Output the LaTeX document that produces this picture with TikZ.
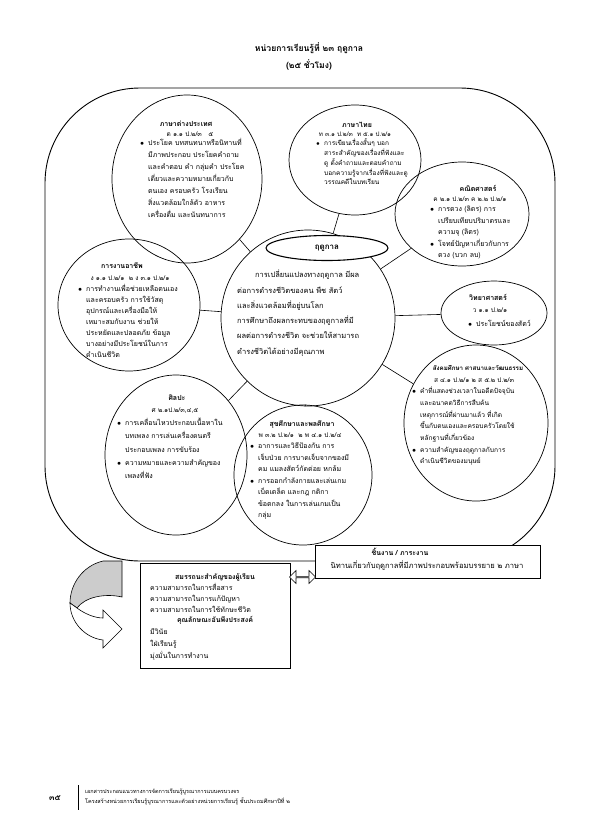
\documentclass[tikz,border=0pt]{standalone}
\usepackage{fontspec}
\setmainfont{Loma}[Script=Thai]
\usetikzlibrary{shapes.geometric,shapes.arrows}
\newcommand\fl{\rule{0pt}{8pt}}
\newcommand\bul{\makebox[8pt][l]{$\bullet$}}
\newcommand\ind{\hspace*{8pt}}
\begin{document}
\begin{tikzpicture}[x=1pt,y=-1pt,
  subj/.style={draw, ellipse, inner sep=0pt, line width=0.7pt},
  lk/.style={line width=0.6pt},
  hd/.style={font=\fontsize{7}{8}\selectfont\bfseries, anchor=base, inner sep=0pt},
  cd/.style={font=\fontsize{6.5}{8}\selectfont, anchor=base, inner sep=0pt},
  blk/.style={font=\fontsize{7}{#1}\selectfont, align=left, anchor=north west, inner sep=0pt},
  blk/.default=11.5,
  boxx/.style={draw, fill=white, line width=0.6pt, anchor=north west, inner sep=0pt}]
\useasboundingbox (0,0) rectangle (595,836);

% title
\node[font=\fontsize{8.6}{10}\selectfont\bfseries, anchor=base] (t1) at (309,51) {หน่วยการเรียนรู้ที่ ๒๓ ฤดูกาล};
\node[font=\fontsize{8.6}{10}\selectfont\bfseries, anchor=base] (t2) at (309,68) {(๒๕ ชั่วโมง)};

% outer frame
\draw[line width=0.9pt, rounded corners=95pt] (45,88) rectangle (555,561);

% circles
\node[subj, minimum width=174pt, minimum height=176pt] (c) at (308,318) {};
\node[subj, minimum width=150pt, minimum height=168pt] (fl) at (187,179) {};
\node[subj, minimum width=132pt, minimum height=110pt] (th) at (355,160) {};
\node[subj, minimum width=134pt, minimum height=104pt] (ma) at (462,214) {};
\node[subj, minimum width=142pt, minimum height=132pt] (oc) at (129,305) {};
\node[subj, minimum width=106pt, minimum height=64pt] (sc) at (494,313) {};
\node[subj, minimum width=144pt, minimum height=156pt] (so) at (476,423) {};
\node[subj, minimum width=142pt, minimum height=160pt] (ar) at (176,455) {};
\node[subj, minimum width=138pt, minimum height=140pt] (pe) at (303,475) {};

\foreach \s in {fl,th,ma,oc,sc,so,ar,pe} \draw[lk] (c) -- (\s);

\node[draw, ellipse, fill=white, line width=1.1pt, minimum width=122pt, minimum height=25pt, inner sep=0pt,
  font=\fontsize{8}{9}\selectfont\bfseries] (lab) at (327,248) {ฤดูกาล};

% centre text
\node[blk=15.3, font=\fontsize{7.5}{15.3}\selectfont] (ct) at (237,269.5) {\fl\hspace*{18pt}การเปลี่ยนแปลงทางฤดูกาล มีผล\\
ต่อการดำรงชีวิตของคน พืช สัตว์\\
และสิ่งแวดล้อมที่อยู่บนโลก\\
การศึกษาถึงผลกระทบของฤดูกาลที่มี\\
ผลต่อการดำรงชีวิต จะช่วยให้สามารถ\\
ดำรงชีวิตได้อย่างมีคุณภาพ};

% foreign language
\node[hd] (flh) at (186,126.5) {ภาษาต่างประเทศ};
\node[cd] (flc) at (190,136.5) {ต ๑.๑ ป.๒/๓ \ \ ๕};
\node[blk=12] (flt) at (140,137.5) {\fl\bul ประโยค บทสนทนาหรือนิทานที่\\
\ind มีภาพประกอบ ประโยคคำถาม\\
\ind และคำตอบ คำ กลุ่มคำ ประโยค\\
\ind เดี่ยวและความหมายเกี่ยวกับ\\
\ind ตนเอง ครอบครัว โรงเรียน\\
\ind สิ่งแวดล้อมใกล้ตัว อาหาร\\
\ind เครื่องดื่ม และนันทนาการ};

% thai
\node[hd] (thh) at (357,127.5) {ภาษาไทย};
\node[cd, font=\fontsize{6.2}{8}\selectfont] (thc) at (355,136.5) {ท ๓.๑ ป.๒/๓ \ ท ๕.๑ ป.๒/๑};
\node[blk=9.8, font=\fontsize{6.5}{9.8}\selectfont] (tht) at (316,137.5) {\fl\bul การเขียนเรื่องสั้นๆ บอก\\
\ind สาระสำคัญของเรื่องที่ฟังและ\\
\ind ดู ตั้งคำถามและตอบคำถาม\\
\ind บอกความรู้จากเรื่องที่ฟังและดู\\
\ind วรรณคดีในบทเรียน};

% math
\node[hd] (mah) at (478,191.5) {คณิตศาสตร์};
\node[cd] (mac) at (470,201.5) {ค ๒.๑ ป.๒/๓ ค ๒.๒ ป.๒/๑};
\node[blk=11.5] (mat) at (430,203.5) {\fl\bul การตวง (ลิตร) การ\\
\ind เปรียบเทียบปริมาตรและ\\
\ind ความจุ (ลิตร)\\
\bul โจทย์ปัญหาเกี่ยวกับการ\\
\ind ตวง (บวก ลบ)};

% occupation
\node[hd] (och) at (122,268.5) {การงานอาชีพ};
\node[cd] (occ) at (130,280.5) {ง ๑.๑ ป.๒/๑ \ ๒ ง ๓.๑ ป.๒/๑};
\node[blk=11] (oct) at (78,283.5) {\fl\bul การทำงานเพื่อช่วยเหลือตนเอง\\
\ind และครอบครัว การใช้วัสดุ\\
\ind อุปกรณ์และเครื่องมือให้\\
\ind เหมาะสมกับงาน ช่วยให้\\
\ind ประหยัดและปลอดภัย ข้อมูล\\
\ind บางอย่างมีประโยชน์ในการ\\
\ind ดำเนินชีวิต};

% science
\node[hd] (sch) at (488,300.5) {วิทยาศาสตร์};
\node[cd] (scc) at (490,312.5) {ว ๑.๑ ป.๒/๑};
\node[blk] (sct) at (468,318.5) {\fl\bul ประโยชน์ของสัตว์};

% social
\node[hd, font=\fontsize{6.2}{8}\selectfont\bfseries] (soh) at (478,370.5) {สังคมศึกษา ศาสนาและวัฒนธรรม};
\node[cd] (soc) at (474,382.5) {ส ๔.๑ ป.๒/๑ ๒ ส ๕.๒ ป.๒/๓};
\node[blk=11.7, font=\fontsize{6.6}{11.7}\selectfont] (sot) at (412,385.5) {\fl\bul คำที่แสดงช่วงเวลาในอดีตปัจจุบัน\\
\ind และอนาคตวิธีการสืบค้น\\
\ind เหตุการณ์ที่ผ่านมาแล้ว ที่เกิด\\
\ind ขึ้นกับตนเองและครอบครัวโดยใช้\\
\ind หลักฐานที่เกี่ยวข้อง\\
\bul ความสำคัญของฤดูกาลกับการ\\
\ind ดำเนินชีวิตของมนุษย์};

% arts
\node[hd] (arh) at (177,400.5) {ศิลปะ};
\node[cd] (arc) at (175,412.5) {ศ ๒.๑ป.๒/๓,๔,๕};
\node[blk=13.2] (art) at (117,417.5) {\fl\bul การเคลื่อนไหวประกอบเนื้อหาใน\\
\ind บทเพลง การเล่นเครื่องดนตรี\\
\ind ประกอบเพลง การขับร้อง\\
\bul ความหมายและความสำคัญของ\\
\ind เพลงที่ฟัง};

% health
\node[hd] (peh) at (302,426.5) {สุขศึกษาและพลศึกษา};
\node[cd] (pec) at (300,437.5) {พ ๓.๒ ป.๒/๑ \ ๒ พ ๔.๑ ป.๒/๔};
\node[blk=11.5] (pet) at (250,440.5) {\fl\bul อาการและวิธีป้องกัน การ\\
\ind เจ็บป่วย การบาดเจ็บจากของมี\\
\ind คม แมลงสัตว์กัดต่อย หกล้ม\\
\bul การออกกำลังกายและเล่นเกม\\
\ind เบ็ดเตล็ด และกฎ กติกา\\
\ind ข้อตกลง ในการเล่นเกมเป็น\\
\ind กลุ่ม};

% work box
\node[boxx, minimum width=225pt, minimum height=33pt] (wk) at (315,545) {};
\node[hd] (wkh) at (400,555.5) {ชิ้นงาน / ภาระงาน};
\node[cd, font=\fontsize{7.6}{8}\selectfont] (wkt) at (427,568.5) {นิทานเกี่ยวกับฤดูกาลที่มีภาพประกอบพร้อมบรรยาย ๒ ภาษา};

% competency box
\node[boxx, minimum width=150pt, minimum height=105pt] (cp) at (140,563) {};
\node[hd] (cph) at (215,579.5) {สมรรถนะสำคัญของผู้เรียน};
\node[blk=11] (cpt) at (150,582.5) {\fl ความสามารถในการสื่อสาร\\
ความสามารถในการแก้ปัญหา\\
ความสามารถในการใช้ทักษะชีวิต};
\node[hd] (cph2) at (215,622.5) {คุณลักษณะอันพึงประสงค์};
\node[blk=12] (cpt2) at (150,626.5) {\fl มีวินัย\\
ใฝ่เรียนรู้\\
มุ่งมั่นในการทำงาน};

% double arrow
\node[double arrow, draw, fill=white, line width=0.6pt, minimum height=26pt, minimum width=13pt,
  double arrow head extend=2.5pt, inner sep=0pt] (da) at (302.5,577) {};

% curved arrow
\draw[line width=0.6pt, fill=gray!40] (103,561) -- (122,561) -- (122,597)
  .. controls (105,593) and (85,597) .. (77,608) -- (70,603)
  .. controls (70,585) and (82,566) .. (103,561) -- cycle;
\draw[line width=0.6pt, fill=white] (77,608) .. controls (85,614) and (95,618) .. (103,618)
  -- (103,610) -- (122,629) -- (103,648) -- (103,640)
  .. controls (85,638) and (70,622) .. (70,603) -- cycle;

% footer
\node[font=\fontsize{8}{9}\selectfont\bfseries, anchor=base] (pg) at (55,800) {๓๕};
\coordinate (fa) at (78,785);
\coordinate (fb) at (78,810);
\draw[line width=0.5pt] (fa) -- (fb);
\node[font=\fontsize{5.5}{10.5}\selectfont, align=left, anchor=north west, inner sep=0pt] (ft) at (85,785) {\fl เอกสารประกอบแนวทางการจัดการเรียนรู้บูรณาการแบบครบวงจร\\
โครงสร้างหน่วยการเรียนรู้บูรณาการและตัวอย่างหน่วยการเรียนรู้ ชั้นประถมศึกษาปีที่ ๒};
\end{tikzpicture}
\end{document}
